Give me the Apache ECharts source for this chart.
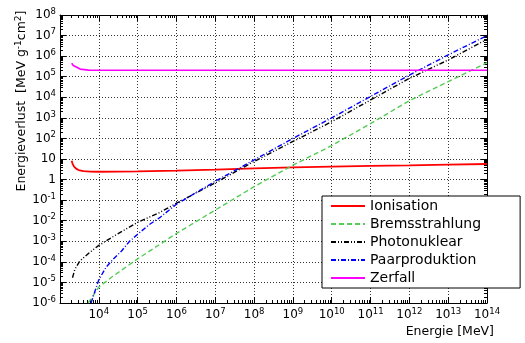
<!DOCTYPE html>
<html>
<head>
<meta charset="utf-8">
<script src="https://cdn.jsdelivr.net/npm/echarts@6/dist/echarts.min.js"></script>
<style>
  html, body { margin: 0; padding: 0; background: #fff; }
  #chart { width: 525px; height: 343px; }
</style>
</head>
<body>
<div id="chart"></div>
<script>
// energy in MeV, loss in MeV g^-1 cm^2
const ionEnergy = [2.0e3, 2.1e3, 2.3e3, 2.6e3, 3e3, 4e3, 6e3, 1e4, 1e5, 1e6, 1e7, 1e8, 1e9, 1e10, 1e11, 1e12, 1e13, 1e14];
const ionLoss = [8.3, 6, 4.3, 3.4, 2.9, 2.6, 2.45, 2.4, 2.5, 2.75, 3.05, 3.5, 3.9, 4.3, 4.6, 4.9, 5.3, 5.7];

const bremsEnergy = [5.3e3, 1e4, 2.3e4, 1e5, 1e6, 1e7, 1e8, 1e9, 1e10, 1e11, 1e12, 1e13, 1e14];
const bremsLoss = [1e-6, 5.9e-6, 2e-5, 1.4e-4, 2.4e-3, 3.3e-2, 0.45, 5, 45, 525, 6.8e3, 5.8e4, 4.8e5];

const photoEnergy = [2.1e3, 2.4e3, 3.2e3, 5.9e3, 1e4, 2.3e4, 1e5, 3.7e5, 1e6, 1e7, 1e8, 1e9, 1e10, 1e11, 1e12, 1e13, 1e14];
const photoLoss = [1.7e-5, 4.2e-5, 1.07e-4, 2.95e-4, 6.3e-4, 1.66e-3, 8.3e-3, 2.5e-2, 7.1e-2, 0.69, 7.6, 71, 650, 7.4e3, 8.3e4, 6.5e5, 6.6e6];

const pairEnergy = [6.3e3, 1e4, 1.55e4, 2.3e4, 3.8e4, 6.2e4, 1e5, 2e5, 3.7e5, 1e6, 1e7, 1e8, 1e9, 1e10, 1e11, 1e12, 1e13, 1e14];
const pairLoss = [1e-6, 1.35e-5, 5.6e-5, 1.3e-4, 3.3e-4, 1e-3, 2.2e-3, 6.5e-3, 1.4e-2, 6.3e-2, 0.83, 9, 100, 1e3, 1.1e4, 1.2e5, 1.15e6, 1.0e7];

const decayEnergy = [2.0e3, 2.2e3, 2.4e3, 3.3e3, 5.4e3, 1e14];
const decayLoss = [4.5e5, 3.5e5, 3e5, 2.35e5, 2.1e5, 2.05e5];

const seriesNames = ["Ionisation", "Bremsstrahlung", "Photonuklear", "Paarproduktion", "Zerfall"];

// axis ranges (powers of ten)
const xExp = [3, 14];
const yExp = [-6, 8];

const FONT = "DejaVu Sans";

function pairs(xs, ys) {
  return xs.map((x, i) => [x, ys[i]]);
}

function decades(lo, hi) {
  const out = [];
  for (let e = lo; e <= hi; e++) out.push(Math.pow(10, e));
  return out;
}

function minorValues(lo, hi) {
  const out = [];
  for (let e = lo; e < hi; e++) {
    for (let k = 2; k <= 9; k++) out.push(k * Math.pow(10, e));
  }
  return out;
}

function powerLabel(v) {
  const n = Math.round(Math.log10(v));
  if (n === 0) return "{b|1}";
  if (n === 1) return "{b|10}";
  return "{b|10}{s|" + n + "}";
}

const labelRich = {
  b: { fontSize: 12, fontFamily: FONT, color: "#000" },
  s: { fontSize: 8.5, fontFamily: FONT, color: "#000", padding: [0, 0, 7, 0] },
};

function majorAxis(exp, position, withLabels) {
  return {
    type: "log",
    logBase: 10,
    min: Math.pow(10, exp[0]),
    max: Math.pow(10, exp[1]),
    position: position,
    axisLine: { show: true, onZero: false, lineStyle: { color: "#000", width: 1 } },
    axisTick: { show: true, inside: true, length: 6, customValues: decades(exp[0], exp[1]), lineStyle: { color: "#000" } },
    minorTick: { show: false },
    axisLabel: withLabels
      ? {
          show: true,
          customValues: decades(exp[0], exp[1]),
          formatter: withLabels,
          rich: labelRich,
          margin: 4,
        }
      : { show: false },
    splitLine: withLabels
      ? { show: true, lineStyle: { color: "#333", type: [1, 2], width: 1 } }
      : { show: false },
  };
}

function minorAxis(exp, position) {
  return {
    type: "log",
    logBase: 10,
    min: Math.pow(10, exp[0]),
    max: Math.pow(10, exp[1]),
    position: position,
    axisLine: { show: false },
    axisTick: { show: true, inside: true, length: 3, customValues: minorValues(exp[0], exp[1]), lineStyle: { color: "#000" } },
    axisLabel: { show: false },
    splitLine: { show: false },
  };
}

const xLabel = (v) => (Math.round(Math.log10(v)) === xExp[0] ? "" : powerLabel(v));
const yLabel = (v) => powerLabel(v);

const chart = echarts.init(document.getElementById("chart"), null, { renderer: "canvas" });

const option = {
  animation: false,
  backgroundColor: "#fff",
  grid: { left: 60, right: 38, top: 15, bottom: 40, containLabel: false, outerBoundsMode: "none" },
  xAxis: [
    majorAxis(xExp, "bottom", xLabel),
    minorAxis(xExp, "bottom"),
    majorAxis(xExp, "top", null),
    minorAxis(xExp, "top"),
  ],
  yAxis: [
    majorAxis(yExp, "left", yLabel),
    minorAxis(yExp, "left"),
    majorAxis(yExp, "right", null),
    minorAxis(yExp, "right"),
  ],
  legend: {
    orient: "vertical",
    left: 322,
    top: 196,
    padding: [3, 39, 3, 8],
    itemWidth: 34,
    itemHeight: 14,
    itemGap: 4,
    backgroundColor: "#fff",
    borderColor: "#000",
    borderWidth: 1,
    borderRadius: 0,
    itemStyle: { opacity: 0 },
    textStyle: { fontSize: 14, fontFamily: FONT, color: "#000" },
    data: seriesNames,
  },
  graphic: [
    {
      type: "text",
      x: 22,
      y: 101,
      rotation: Math.PI / 2,
      style: {
        text: "Energieverlust  [MeV g{s|-1}cm{s|2}]",
        fontSize: 12.5,
        fontFamily: FONT,
        fill: "#000",
        align: "center",
        verticalAlign: "middle",
        rich: {
          s: { fontSize: 9, fontFamily: FONT, padding: [0, 0, 7, 0] },
        },
      },
    },
    {
      type: "text",
      x: 494,
      y: 332,
      style: {
        text: "Energie [MeV]",
        fontSize: 12.5,
        fontFamily: FONT,
        fill: "#000",
        align: "right",
        verticalAlign: "middle",
      },
    },
  ],
  series: [
    {
      name: seriesNames[0],
      type: "line",
      data: pairs(ionEnergy, ionLoss),
      symbol: "none",
      color: "#ff0000",
      lineStyle: { color: "#ff0000", width: 1.8 },
    },
    {
      name: seriesNames[1],
      type: "line",
      data: pairs(bremsEnergy, bremsLoss),
      symbol: "none",
      color: "#55cc55",
      lineStyle: { color: "#55cc55", width: 1.4, type: [5, 3] },
    },
    {
      name: seriesNames[2],
      type: "line",
      data: pairs(photoEnergy, photoLoss),
      symbol: "none",
      color: "#000000",
      lineStyle: { color: "#000000", width: 1.4, type: [5, 2, 1, 2, 1, 2] },
    },
    {
      name: seriesNames[3],
      type: "line",
      data: pairs(pairEnergy, pairLoss),
      symbol: "none",
      color: "#0000ff",
      lineStyle: { color: "#0000ff", width: 1.4, type: [5, 2, 1, 2] },
    },
    {
      name: seriesNames[4],
      type: "line",
      data: pairs(decayEnergy, decayLoss),
      symbol: "none",
      color: "#ff00ff",
      lineStyle: { color: "#ff00ff", width: 1.6 },
    },
  ],
};

chart.setOption(option);
</script>
</body>
</html>
